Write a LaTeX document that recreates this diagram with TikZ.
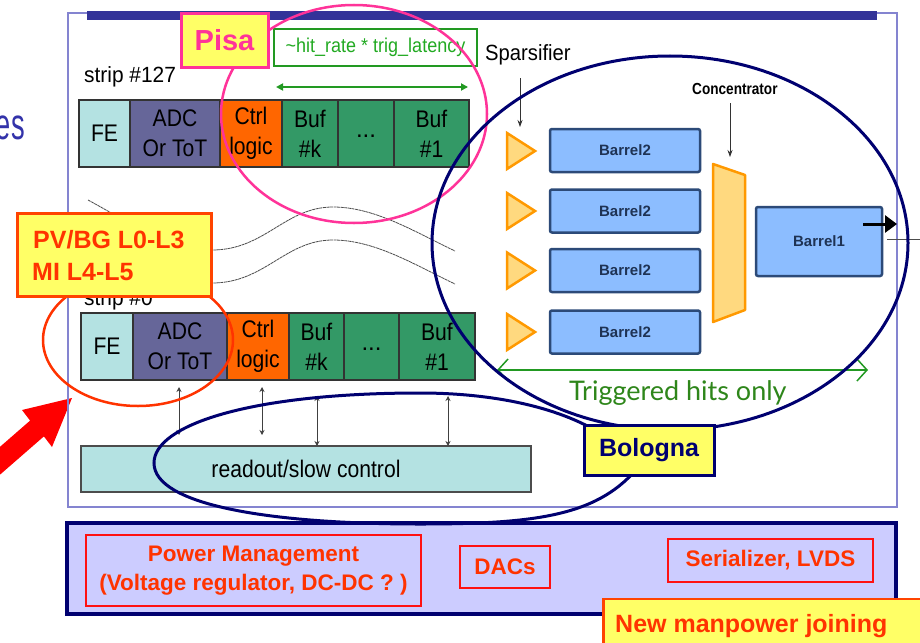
\documentclass[tikz,border=0pt]{standalone}
\usepackage{fontspec}
\setmainfont{Liberation Sans}
\newfontfamily\trigfont{Lato}
\usepackage{graphicx}
\usetikzlibrary{arrows.meta}
\newcommand\fs[2]{\fontsize{#1}{#2}\selectfont}
\newcommand\nar[1]{\scalebox{0.88}[1]{#1}}
\definecolor{fecol}{HTML}{B4E2E2}
\definecolor{adccol}{HTML}{666699}
\definecolor{ctrlcol}{HTML}{FF6600}
\definecolor{bufcol}{HTML}{339966}
\definecolor{pinkc}{HTML}{FF3399}
\definecolor{yel}{HTML}{FFFF66}
\definecolor{navyc}{HTML}{000070}
\definecolor{framecol}{HTML}{8484D0}
\definecolor{barcol}{HTML}{333399}
\definecolor{redtxt}{HTML}{FF3300}
\definecolor{redbox}{HTML}{FF1111}
\definecolor{lav}{HTML}{CCCCFF}
\definecolor{trifill}{HTML}{FFD97F}
\definecolor{tridraw}{HTML}{FF9900}
\definecolor{barfill}{HTML}{8CBDFF}
\definecolor{bardraw}{HTML}{2C4A78}
\definecolor{bartxt}{HTML}{1F3354}
\definecolor{greentxt}{HTML}{22AA22}
\definecolor{greenbox}{HTML}{229922}
\definecolor{trigcol}{HTML}{2E861A}
\definecolor{estxt}{HTML}{3333AA}
\definecolor{pvdraw}{HTML}{FF4400}
\begin{document}
\begin{tikzpicture}[x=1pt,y=-1pt,
  cellbox/.style={draw=black!80,line width=1.2pt,minimum height=67pt,inner sep=0pt,align=center,font=\fs{24}{30}},
  barrel/.style={draw=bardraw,fill=barfill,line width=2.5pt,rounded corners=2pt,minimum width=150pt,minimum height=43pt,inner sep=0pt,font=\bfseries\fs{15}{18},text=bartxt},
  redb/.style={draw=redbox,line width=2pt,inner sep=0pt,align=center,text=redtxt,font=\bfseries\fs{22.5}{29}},
  dbl/.style={{Stealth[length=5pt,width=5pt]}-{Stealth[length=5pt,width=5pt]},black!75,line width=0.8pt},
  arr/.style={-{Stealth[length=7pt,width=5pt]},black!80,line width=0.8pt},
  wave/.style={black!70,line width=0.8pt,dash pattern=on 3pt off 0.6pt},
  lbl/.style={anchor=base west,inner sep=0pt}]
\useasboundingbox (0,0) rectangle (920,642);
\fill[white] (0,0) rectangle (920,642);
\clip (0,0) rectangle (920,642);

% left partial text and red arrow
\node[anchor=base east,inner sep=0pt,text=estxt,font=\fs{44}{50}] (es) at (25,139) {\scalebox{0.62}[1]{es}};
\fill[red] (72,398) -- (52,447) -- (43.9,436.4) -- (-8.9,482.4) -- (-22.7,466.6) -- (30.1,420.6) -- (22,410) -- cycle;

% frame
\draw[framecol,line width=1.5pt] (68,13) rectangle (897,507);
\fill[barcol] (87,11) rectangle (877,20);

% strip 127
\node[lbl,font=\fs{22}{26}] (s127) at (84,82) {\scalebox{0.95}[1]{strip \#127}};
\node[cellbox,fill=fecol,minimum width=51pt] (fe1) at (104.5,133.5) {\nar{FE}};
\node[cellbox,fill=adccol,minimum width=90pt] (adc1) at (175,133.5) {\nar{ADC}\\\nar{Or ToT}};
\node[cellbox,fill=ctrlcol,minimum width=62pt] (ctrl1) at (251,133.5) {\nar{Ctrl}\\\nar{logic}};
\node[cellbox,fill=bufcol,minimum width=56pt] (bk1) at (310,133.5) {\nar{Buf}\\\nar{\#k}};
\node[cellbox,fill=bufcol,minimum width=56pt] (bd1) at (366,133.5) {\raisebox{-8pt}{...}};
\node[cellbox,fill=bufcol,minimum width=75pt] (b11) at (431.5,133.5) {\nar{Buf}\\\nar{\#1}};

% wavy lines
\draw[wave] (88,200) .. controls (140,228) and (165,250) .. (212,250) .. controls (265,250) and (285,207) .. (333,207) .. controls (375,207) and (415,232) .. (455,251);
\draw[wave] (88,233) .. controls (140,261) and (165,283) .. (212,283) .. controls (265,283) and (285,240) .. (333,240) .. controls (375,240) and (415,265) .. (455,284);

% strip 0
\node[lbl,font=\fs{22}{26}] (s0) at (84,305) {\scalebox{0.95}[1]{strip \#0}};
\node[cellbox,fill=fecol,minimum width=52pt] (fe0) at (107,346.5) {\nar{FE}};
\node[cellbox,fill=adccol,minimum width=94pt] (adc0) at (180,346.5) {\nar{ADC}\\\nar{Or ToT}};
\node[cellbox,fill=ctrlcol,minimum width=62pt] (ctrl0) at (258,346.5) {\nar{Ctrl}\\\nar{logic}};
\node[cellbox,fill=bufcol,minimum width=55pt] (bk0) at (316.5,346.5) {\nar{Buf}\\\nar{\#k}};
\node[cellbox,fill=bufcol,minimum width=55pt] (bd0) at (371.5,346.5) {\raisebox{-8pt}{...}};
\node[cellbox,fill=bufcol,minimum width=76pt] (b10) at (437,346.5) {\nar{Buf}\\\nar{\#1}};

% readout
\node[draw=black!70,line width=1.2pt,fill=fecol,minimum width=450pt,minimum height=46pt,inner sep=0pt,font=\fs{24}{30}] (ro) at (306,469) {\nar{readout/slow control}};
\coordinate (a1t) at (179,387); \coordinate (a1b) at (179,435);
\coordinate (a2t) at (262,387); \coordinate (a2b) at (262,435);
\coordinate (a3t) at (317,396); \coordinate (a3b) at (317,446);
\coordinate (a4t) at (448,396); \coordinate (a4b) at (448,446);
\draw[dbl] (a1t) -- (a1b);
\draw[dbl] (a2t) -- (a2b);
\draw[dbl] (a3t) -- (a3b);
\draw[dbl] (a4t) -- (a4b);

% sparsifier / barrels
\node[lbl,font=\fs{22}{26}] (spars) at (485,60) {\scalebox{0.92}[1]{Sparsifier}};
\coordinate (spt) at (520,78); \coordinate (spb) at (520,127);
\draw[arr] (spt) -- (spb);
\node[lbl,font=\bfseries\fs{16}{20}] (conc) at (692,94) {\scalebox{0.85}[1]{Concentrator}};
\coordinate (cct) at (730,103); \coordinate (ccb) at (730,157);
\draw[arr] (cct) -- (ccb);
\foreach \yy in {151,211,270.5,332}
  \draw[tridraw,fill=trifill,line width=2.5pt,line join=miter] (507,\yy-18) -- (535,\yy) -- (507,\yy+18) -- cycle;
\node[barrel] (br1) at (625,150.5) {Barrel2};
\node[barrel] (br2) at (625,211) {Barrel2};
\node[barrel] (br3) at (625,270.5) {Barrel2};
\node[barrel] (br4) at (625,332) {Barrel2};
\draw[tridraw,fill=trifill,line width=2.5pt,line join=round] (713,164) -- (745,175) -- (745,310) -- (713,322) -- cycle;
\node[barrel,minimum width=126pt,minimum height=69pt] (bar1) at (819,241.5) {Barrel1};
\coordinate (outs) at (863,224); \coordinate (oute) at (897,224);
\draw[line width=3pt,-{Triangle[length=12pt,width=17pt]}] (outs) -- (oute);
\coordinate (tl1) at (887,239); \coordinate (tl2) at (920,239);
\draw[black!70,line width=0.8pt] (tl1) -- (tl2);

% triggered hits
\coordinate (trl) at (497,370); \coordinate (trr) at (868,370);
\draw[greenbox,line width=1.5pt,{Straight Barb[length=10pt,width=22pt]}-{Straight Barb[length=10pt,width=22pt]}] (trl) -- (trr);
\node[lbl,text=trigcol,font=\trigfont\fs{27}{30}] (trig) at (569,400) {Triggered hits only};

% latency box
\node[draw=greenbox,line width=1.5pt,fill=white,minimum width=203pt,minimum height=37pt,inner sep=0pt,text=greentxt,font=\fs{20}{24}] (lat) at (375.5,47.5) {\scalebox{0.9}[1]{\textasciitilde hit\_rate * trig\_latency}};
\coordinate (gl) at (276,87); \coordinate (gr) at (468,87);
\draw[greenbox,line width=2pt,{Triangle[length=7pt,width=7pt]}-{Triangle[length=7pt,width=7pt]}] (gl) -- (gr);

% lower panel
\node[draw=navyc,fill=lav,line width=3.5pt,minimum width=829pt,minimum height=91pt,inner sep=0pt] (panel) at (481.5,568.5) {};
\node[redb,minimum width=335pt,minimum height=71pt] (pm) at (253.5,570.5) {Power Management\\(Voltage regulator, DC-DC ? )};
\node[redb,minimum width=90pt,minimum height=42pt] (dac) at (505,567) {DACs};
\node[redb,minimum width=205pt,minimum height=43pt] (ser) at (770.5,560.5) {Serializer, LVDS};

% ellipses
\draw[pinkc,line width=2.5pt] (354,114) ellipse [x radius=133pt, y radius=109pt];
\draw[redtxt,line width=2.5pt] (138,340) ellipse [x radius=95pt, y radius=66pt];
\draw[navyc,line width=3pt] (670,243) ellipse [x radius=238pt, y radius=187pt];
\draw[navyc,line width=3pt] (154,463) .. controls (154,425) and (250,393) .. (420,393) .. controls (500,393) and (570,410) .. (610,440) -- (640,465) .. controls (600,515) and (540,524) .. (420,524) .. controls (270,524) and (154,505) .. (154,463) -- cycle;

% callout boxes
\node[draw=pinkc,fill=yel,line width=3pt,minimum width=87pt,minimum height=53pt,inner sep=0pt,text=pinkc,font=\bfseries\fs{29}{34}] (pisa) at (224.5,40.5) {Pisa};
\node[draw=pvdraw,fill=yel,line width=3pt,minimum width=194pt,minimum height=83pt,inner sep=0pt] (pv) at (114,254.5) {};
\node[lbl,text=redtxt,font=\bfseries\fs{25}{32}] (pvt1) at (33,248) {PV/BG L0-L3};
\node[lbl,text=redtxt,font=\bfseries\fs{25}{32}] (pvt2) at (32,280) {MI L4-L5};
\node[draw=navyc,fill=yel,line width=3pt,minimum width=130pt,minimum height=50pt,inner sep=0pt,text=navyc,font=\bfseries\fs{25}{30}] (bol) at (649,450) {Bologna};
\node[draw=pvdraw,fill=yel,line width=2.5pt,minimum width=330pt,minimum height=52pt,inner sep=0pt,anchor=west] (newmp) at (602,625) {};
\node[lbl,text=redtxt,font=\bfseries\fs{25}{30}] (newt) at (615,632) {New manpower joining};
\end{tikzpicture}
\end{document}
